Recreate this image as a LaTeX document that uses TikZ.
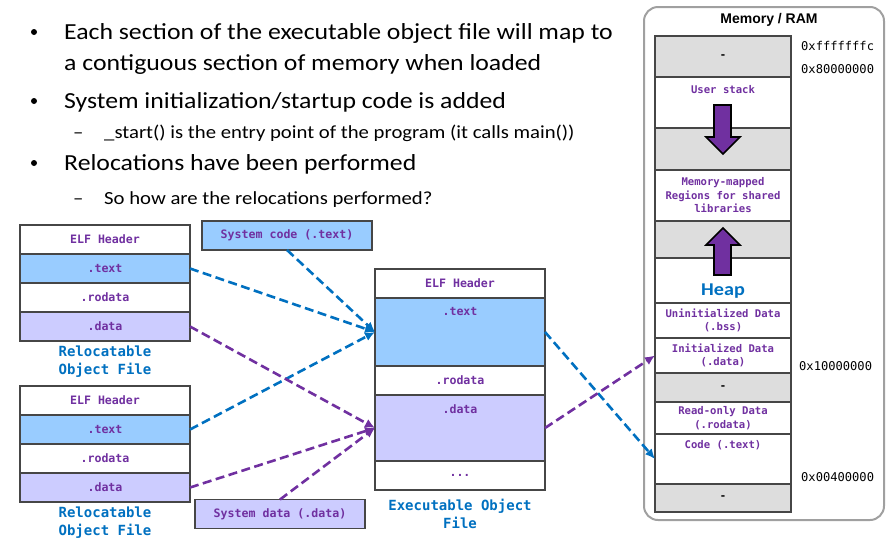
\documentclass[tikz,border=0pt]{standalone}
\usepackage{fontspec}
\setmainfont{Carlito}[FakeStretch=1.12]
\setsansfont{Liberation Sans}
\setmonofont{DejaVu Sans Mono}
\usetikzlibrary{positioning,arrows.meta}

\definecolor{txtblue}{RGB}{153,204,255}
\definecolor{datlav}{RGB}{204,204,255}
\definecolor{gapgray}{RGB}{221,221,221}
\definecolor{linkblue}{RGB}{0,112,192}
\definecolor{linkpurple}{RGB}{112,48,160}
\definecolor{rowedge}{RGB}{70,70,70}
\definecolor{ramedge}{RGB}{160,160,160}

\begin{document}
\begin{tikzpicture}[
        x=1pt, y=-1pt,
        sect/.style={draw=rowedge, line width=1.1pt, inner sep=0pt, outer sep=0pt, minimum width=170pt, minimum height=29pt, text=linkpurple, font=\ttfamily\bfseries\fontsize{11.6}{13}\selectfont},
        rowtxt/.style={inner sep=0pt, text=linkpurple, font=\ttfamily\bfseries\fontsize{11.6}{13}\selectfont},
        memrow/.style={draw=rowedge, line width=1.1pt, inner sep=0pt, outer sep=0pt, minimum width=136pt, text=linkpurple, align=center, font=\ttfamily\bfseries\fontsize{10.6}{13.5}\selectfont},
        memtxt/.style={inner sep=0pt, text=linkpurple, font=\ttfamily\bfseries\fontsize{10.6}{13.5}\selectfont},
        gap/.style={fill=gapgray, text=black},
        caption/.style={align=center, text=linkblue, inner sep=0pt, font=\ttfamily\bfseries\fontsize{14}{18}\selectfont},
        addr/.style={anchor=west, inner sep=0pt, font=\ttfamily\fontsize{12.1}{14}\selectfont},
        dotmark/.style={circle, fill=black, inner sep=0pt, minimum size=6pt},
        bullet/.style={anchor=base west, inner sep=0pt, font=\fontsize{23}{27}\selectfont},
        subbullet/.style={anchor=base west, inner sep=0pt, font=\fontsize{18.5}{22}\selectfont},
        link/.style={dash pattern=on 9pt off 4.5pt, line width=2.6pt, -{Latex[length=10pt,width=9pt]}},
        growarrow/.style={fill=linkpurple, draw=black, line width=1.6pt, line join=miter}
    ]
        \useasboundingbox (0,0) rectangle (886,539);

        % Bullet text
        \node[dotmark] (dot1) at (34,32) {};
        \node[bullet] (l1) at (64,39) {Each section of the executable object file will map to};
        \node[bullet] (l1b) at (64,70) {a contiguous section of memory when loaded};
        \node[dotmark] (dot2) at (34,101) {};
        \node[bullet] (l2) at (64,108) {System initialization/startup code is added};
        \node[subbullet] (dash2) at (73,138) {–};
        \node[subbullet] (s2) at (104,138) {\_start() is the entry point of the program (it calls main())};
        \node[dotmark] (dot3) at (34,163) {};
        \node[bullet] (l3) at (64,170) {Relocations have been performed};
        \node[subbullet] (dash3) at (73,204) {–};
        \node[subbullet] (s3) at (104,204) {So how are the relocations performed?};

        % Relocatable object files
        \node[sect] (r1h) at (105,239.5) {ELF Header};
        \node[sect, fill=txtblue, below=0pt of r1h] (r1t) {.text};
        \node[sect, below=0pt of r1t] (r1r) {.rodata};
        \node[sect, fill=datlav, below=0pt of r1r] (r1d) {.data};
        \node[caption, below=5pt of r1d] (r1c) {Relocatable\\Object File};

        \node[sect] (r2h) at (105,400.5) {ELF Header};
        \node[sect, fill=txtblue, below=0pt of r2h] (r2t) {.text};
        \node[sect, below=0pt of r2t] (r2r) {.rodata};
        \node[sect, fill=datlav, below=0pt of r2r] (r2d) {.data};
        \node[caption, below=5pt of r2d] (r2c) {Relocatable\\Object File};

        % System code and data
        \node[sect, fill=txtblue] (sysc) at (287,235.5) {System code (.text)};
        \node[sect, fill=datlav] (sysd) at (280,514) {System data (.data)};

        % Executable object file
        \node[sect] (eh) at (460,283.5) {ELF Header};
        \node[sect, fill=txtblue, minimum height=68pt, below=0pt of eh] (etext) {};
        \node[sect, below=0pt of etext] (erod) {.rodata};
        \node[sect, fill=datlav, minimum height=66pt, below=0pt of erod] (edata) {};
        \node[sect, below=0pt of edata] (edots) {...};
        \node[rowtxt, below=9pt of etext.north] (etextl) {.text};
        \node[rowtxt, below=9pt of edata.north] (edatal) {.data};
        \node[caption, below=9pt of edots] (ecap) {Executable Object\\File};

        % Memory / RAM
        \node[draw=ramedge, line width=2pt, rounded corners=14pt, minimum width=240pt, minimum height=513pt] (ram) at (764,263.5) {};
        \node[inner sep=0pt, font=\sffamily\bfseries\fontsize{14}{16}\selectfont] (ramt) at (769,20) {Memory / RAM};

        \node[memrow, gap, minimum height=41pt] (mtop) at (723,56.5) {-};
        \node[memrow, minimum height=51pt, below=0pt of mtop] (mstack) {};
        \node[memrow, gap, minimum height=42pt, below=0pt of mstack] (mgap1) {};
        \node[memrow, minimum height=51pt, below=0pt of mgap1] (mmap) {Memory-mapped\\Regions for shared\\libraries};
        \node[memrow, gap, minimum height=37pt, below=0pt of mmap] (mgap2) {};
        \node[memrow, minimum height=45pt, below=0pt of mgap2] (mheap) {};
        \node[memrow, minimum height=35pt, below=0pt of mheap] (mbss) {Uninitialized Data\\(.bss)};
        \node[memrow, minimum height=35pt, below=0pt of mbss] (minit) {Initialized Data\\(.data)};
        \node[memrow, gap, minimum height=29pt, below=0pt of minit] (mgap3) {-};
        \node[memrow, minimum height=32pt, below=0pt of mgap3] (mrod) {Read-only Data\\(.rodata)};
        \node[memrow, minimum height=50pt, below=0pt of mrod] (mcode) {};
        \node[memrow, gap, minimum height=28pt, below=0pt of mcode] (mbot) {-};

        \node[memtxt, below=8pt of mstack.north] (mstackl) {User stack};
        \node[memtxt, below=6pt of mcode.north] (mcodel) {Code (.text)};
        \node[inner sep=0pt, text=linkblue, font=\bfseries\fontsize{18}{20}\selectfont, above=4.5pt of mheap.south] (heapl) {Heap};

        % stack grows down, heap grows up
        \draw[growarrow] (714,105) -- (731,105) -- (731,137) -- (740,137) -- (723,154) -- (706,137) -- (714,137) -- cycle;
        \draw[growarrow] (714,275) -- (731,275) -- (731,245) -- (740,245) -- (723,228) -- (706,245) -- (714,245) -- cycle;

        % Addresses
        \node[addr] (a1) at (801,46) {0xfffffffc};
        \node[addr] (a2) at (801,69) {0x80000000};
        \node[addr] (a3) at (799,366) {0x10000000};
        \node[addr] (a4) at (801,477) {0x00400000};

        % Arrows
        \draw[link, linkblue] (r1t.east) -- (etext.west);
        \draw[link, linkblue] (sysc.south) -- (etext.west);
        \draw[link, linkblue] (r2t.east) -- (etext.west);
        \draw[link, linkpurple] (r1d.east) -- (edata.west);
        \draw[link, linkpurple] (r2d.east) -- (edata.west);
        \draw[link, linkpurple] (sysd.north) -- (edata.west);
        \draw[link, linkblue] (etext.east) -- (mcode.west);
        \draw[link, linkpurple] (edata.east) -- (minit.west);
    \end{tikzpicture}
\end{document}
